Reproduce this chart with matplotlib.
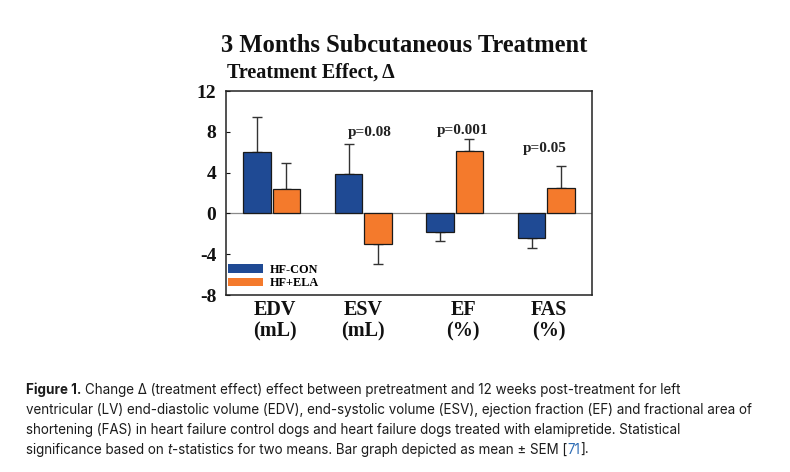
import matplotlib
matplotlib.use("Agg")
import matplotlib.pyplot as plt
from matplotlib.patches import Patch
import matplotlib.transforms as mtrans
import numpy as np

# ---- data ----
categories = ["EDV", "ESV", "EF", "FAS"]
units = ["(mL)", "(mL)", "(%)", "(%)"]
hf_con = [6.0, 3.9, -1.8, -2.4]
hf_con_err = [3.5, 2.9, 0.9, 1.0]
hf_ela = [2.4, -3.0, 6.1, 2.5]
hf_ela_err = [2.5, 2.0, 1.2, 2.1]
series_names = ["HF-CON", "HF+ELA"]
pvalues = ["", "p=0.08", "p=0.001", "p=0.05"]
yticks = [-8, -4, 0, 4, 8, 12]

BLUE = "#1f4a94"
ORANGE = "#f47a2c"
SERIF = "Liberation Serif"

fig = plt.figure(figsize=(7.9, 4.72), dpi=100)
ax = fig.add_axes([0.2861, 0.375, 0.4633, 0.4322])

x = np.arange(len(categories))
w = 0.30
off = 0.16

def one_sided(vals, errs):
    lower = [e if v < 0 else 0 for v, e in zip(vals, errs)]
    upper = [e if v >= 0 else 0 for v, e in zip(vals, errs)]
    return [lower, upper]

ax.bar(x - off, hf_con, w, color=BLUE, edgecolor="#1a1a1a", linewidth=0.9, zorder=3)
ax.bar(x + off, hf_ela, w, color=ORANGE, edgecolor="#1a1a1a", linewidth=0.9, zorder=3)
ax.errorbar(x - off, hf_con, yerr=one_sided(hf_con, hf_con_err), fmt="none",
            ecolor="#333333", elinewidth=1.0, capsize=3.6, capthick=1.0, zorder=2)
ax.errorbar(x + off, hf_ela, yerr=one_sided(hf_ela, hf_ela_err), fmt="none",
            ecolor="#333333", elinewidth=1.0, capsize=3.6, capthick=1.0, zorder=2)

ax.axhline(0, color="#8a8a8a", linewidth=0.9, zorder=1)

ax.set_xlim(-0.5, 3.5)
ax.set_ylim(-8, 12)
ax.set_yticks(yticks)
ax.set_yticklabels([str(t) for t in yticks], fontfamily=SERIF, fontweight="bold", fontsize=14)
ax.tick_params(axis="y", direction="in", length=3, width=0.8, pad=7, colors="#111111")
ax.set_xticks([])
for s in ax.spines.values():
    s.set_linewidth(1.1)
    s.set_color("#222222")

# p-values
p_pos = [(0, 0), (1.07, 7.9), (2.08, 8.1), (2.98, 6.35)]
for (px, py), p in zip(p_pos, pvalues):
    if p:
        ax.text(px, py, p, ha="center", va="center", fontfamily=SERIF,
                fontweight="bold", fontsize=11, color="#222222")

# category labels below axis
lab_off = [0.03, 0.0, 0.09, 0.03]
trans = mtrans.blended_transform_factory(ax.transData, fig.transFigure)
for i, (c, u) in enumerate(zip(categories, units)):
    ax.text(x[i] + lab_off[i], 1 - 310 / 472, c, transform=trans, ha="center", va="center",
            fontfamily=SERIF, fontweight="bold", fontsize=14.5, color="#111111")
    ax.text(x[i] + lab_off[i], 1 - 331 / 472, u, transform=trans, ha="center", va="center",
            fontfamily=SERIF, fontweight="bold", fontsize=14.5, color="#111111")

# legend
handles = [Patch(facecolor=BLUE, edgecolor="none"), Patch(facecolor=ORANGE, edgecolor="none")]
leg = ax.legend(handles, series_names, loc="lower left", bbox_to_anchor=(0.0, 0.015),
                frameon=False, prop={"family": SERIF, "weight": "bold", "size": 8.8},
                handlelength=2.8, handleheight=0.7, handletextpad=0.6, labelspacing=0.15,
                borderaxespad=0.1, borderpad=0.1)

# titles
fig.text(0.511, 1 - 45 / 472, "3 Months Subcutaneous Treatment", ha="center", va="center",
         fontfamily=SERIF, fontweight="bold", fontsize=17.7, color="#111111")
fig.text(227 / 790, 1 - 73 / 472, "Treatment Effect, Δ", ha="left", va="center",
         fontfamily=SERIF, fontweight="bold", fontsize=14.5, color="#111111")

# caption
fig.canvas.draw()
renderer = fig.canvas.get_renderer()
CAP = ["Inter", "DejaVu Sans"]
cap_color = "#1c1c1c"

def text_w(s, **kw):
    t = fig.text(0, 0, s, **kw)
    w_ = t.get_window_extent(renderer).width
    t.remove()
    return w_

line2 = "ventricular (LV) end-diastolic volume (EDV), end-systolic volume (ESV), ejection fraction (EF) and fractional area of"
base = 10.0
wid = text_w(line2, family=CAP, fontsize=base)
fs = base * 733 / wid

def space_w(**kw):
    return text_w("x x", **kw) - text_w("xx", **kw)

def runs(x0, ypix, items):
    xp = x0
    for s, kw in items:
        props = dict(family=CAP, fontsize=fs, color=cap_color)
        props.update(kw)
        lead = len(s) - len(s.lstrip(" "))
        trail = len(s) - len(s.rstrip(" "))
        xp += lead * space_w(**props)
        core = s.strip(" ")
        t = fig.text(xp / 790, 1 - ypix / 472, core, ha="left", va="center", **props)
        xp += t.get_window_extent(renderer).width
        xp += trail * space_w(**props)

x0 = 26
runs(x0, 390, [("Figure 1.", dict(weight="bold")),
               (" Change Δ (treatment effect) effect between pretreatment and 12 weeks post-treatment for left", {})])
runs(x0, 410, [(line2, {})])
runs(x0, 430, [("shortening (FAS) in heart failure control dogs and heart failure dogs treated with elamipretide. Statistical", {})])
runs(x0, 450, [("significance based on ", {}), ("t", dict(style="italic")),
               ("-statistics for two means. Bar graph depicted as mean ± SEM [", {}),
               ("71", dict(color="#2f6db5")), ("].", {})])

fig.savefig("out.png", dpi=100)
